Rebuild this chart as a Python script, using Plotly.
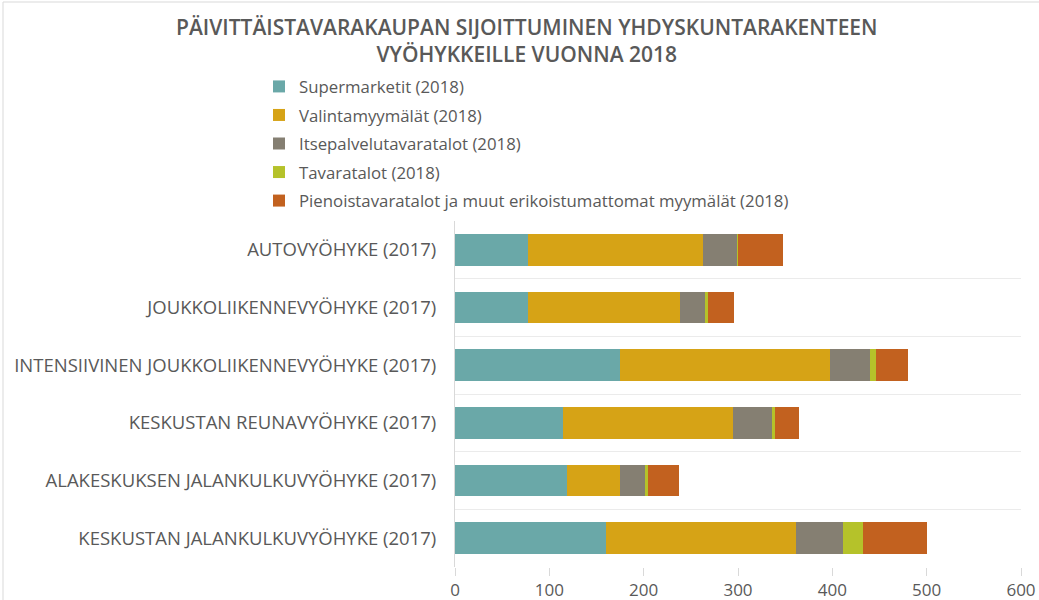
import plotly.graph_objects as go

categories = [
    "AUTOVYÖHYKE (2017)",
    "JOUKKOLIIKENNEVYÖHYKE (2017)",
    "INTENSIIVINEN JOUKKOLIIKENNEVYÖHYKE (2017)",
    "KESKUSTAN REUNAVYÖHYKE (2017)",
    "ALAKESKUKSEN JALANKULKUVYÖHYKE (2017)",
    "KESKUSTAN JALANKULKUVYÖHYKE (2017)",
]

series_names = [
    "Supermarketit (2018)",
    "Valintamyymälät (2018)",
    "Itsepalvelutavaratalot (2018)",
    "Tavaratalot (2018)",
    "Pienoistavaratalot ja muut erikoistumattomat myymälät (2018)",
]

supermarketit = [77, 77, 175, 114.5, 119, 160]
valintamyymalat = [186, 162, 222, 180.5, 56, 201]
itsepalvelu = [36, 26, 43, 41.5, 26, 50.5]
tavaratalot = [1.5, 3, 6, 3, 3.5, 21]
pienoistavaratalot = [47, 27.5, 34.6, 25, 32.5, 68]

values = [supermarketit, valintamyymalat, itsepalvelu, tavaratalot, pienoistavaratalot]
colors = ["#6AA8A8", "#D6A316", "#857F72", "#B5C22A", "#C2611F"]

x_ticks = [0, 100, 200, 300, 400, 500, 600]

TEXT = "#595959"
FONT = "Open Sans"

fig = go.Figure()
for name, vals, col in zip(series_names, values, colors):
    fig.add_trace(go.Bar(
        y=categories, x=vals, name=name, orientation="h",
        marker=dict(color=col, line=dict(width=0)),
        legendgroup=name,
    ))

W, H = 1039, 600
L, R, T, B = 455, 18, 221, 33
pw, ph = W - L - R, H - T - B

fig.update_layout(
    width=W, height=H,
    barmode="stack",
    bargap=0.45,
    paper_bgcolor="white",
    plot_bgcolor="white",
    margin=dict(l=L, r=R, t=T, b=B, pad=0, autoexpand=False),
    font=dict(family=FONT, color=TEXT, size=15),
    title=dict(
        text="PÄIVITTÄISTAVARAKAUPAN SIJOITTUMINEN YHDYSKUNTARAKENTEEN<br>VYÖHYKKEILLE VUONNA 2018",
        x=0.507, xanchor="center", xref="container",
        y=1 - 35 / H, yanchor="top", yref="container",
        font=dict(family=FONT, size=21, color=TEXT, weight=600),
    ),
    legend=dict(
        x=(259 - L) / pw, xanchor="left",
        y=1 + (T - 69) / ph, yanchor="top",
        traceorder="grouped",
        tracegroupgap=3.7,
        font=dict(family=FONT, size=16.8, color=TEXT),
        bgcolor="rgba(0,0,0,0)",
    ),
    xaxis=dict(
        range=[0, 600], tickvals=x_ticks, ticktext=[str(v) for v in x_ticks],
        showgrid=False, zeroline=False,
        ticks="outside", ticklen=8, tickcolor="#d9d9d9",
        showline=False,
        tickfont=dict(family=FONT, size=17, color=TEXT),
        fixedrange=True,
    ),
    yaxis=dict(
        type="category", autorange="reversed",
        tickson="boundaries", showgrid=True, gridcolor="#ebebeb", gridwidth=1,
        ticks="", ticklabelstandoff=14,
        showline=True, linecolor="#d9d9d9", linewidth=1,
        tickfont=dict(family=FONT, size=18.5, color=TEXT),
        fixedrange=True,
    ),
    shapes=[dict(
        type="rect", xref="paper", yref="paper",
        x0=(3 - L) / pw, x1=(W + 10 - L) / pw,
        y0=-(H + 10 - (H - B)) / ph, y1=1 + (T - 2) / ph,
        line=dict(color="#d9d9d9", width=1), fillcolor="rgba(0,0,0,0)",
        layer="below",
    )],
)

fig.write_html(
    "out.html",
    config={"displayModeBar": False},
    post_script="document.body.style.margin='0';",
)
